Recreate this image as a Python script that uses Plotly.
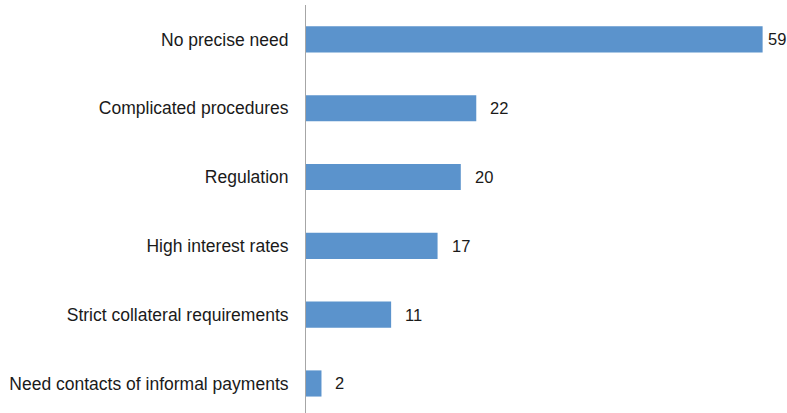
import plotly.graph_objects as go

# Obstacles cited, share of respondents
categories = [
    "No precise need",
    "Complicated procedures",
    "Regulation",
    "High interest rates",
    "Strict collateral requirements",
    "Need contacts of informal payments",
]
values = [59, 22, 20, 17, 11, 2]
label_shift = [3, 12, 12, 12, 12, 12]

BAR_COLOR = "#5b93cc"
TEXT_COLOR = "#1a1a1a"
FONT = "Liberation Sans, Arial, sans-serif"
TICK_SIZE = 17.5
VALUE_SIZE = 16.5

fig = go.Figure(
    go.Bar(
        x=values,
        y=categories,
        orientation="h",
        marker=dict(color=BAR_COLOR, line=dict(width=0)),
        hoverinfo="skip",
    )
)

for cat, val, dx in zip(categories, values, label_shift):
    fig.add_annotation(
        x=val, y=cat, text=str(val), showarrow=False,
        xanchor="left", yanchor="middle", xshift=dx,
        font=dict(size=VALUE_SIZE, color=TEXT_COLOR, family=FONT),
    )

fig.update_layout(
    width=787,
    height=413,
    margin=dict(l=306, r=0, t=5, b=0),
    paper_bgcolor="white",
    plot_bgcolor="white",
    bargap=0.62,
    showlegend=False,
    font=dict(family=FONT, size=TICK_SIZE, color=TEXT_COLOR),
)
fig.update_xaxes(
    range=[0, 62.15],
    visible=False,
    showgrid=False,
    zeroline=False,
)
fig.update_yaxes(
    type="category",
    categoryorder="array",
    categoryarray=categories,
    range=[5.429, -0.5],
    showline=True,
    linecolor="#a6a6a6",
    linewidth=1,
    ticks="",
    ticklabelstandoff=13,
    showgrid=False,
    zeroline=False,
    tickfont=dict(size=TICK_SIZE, color=TEXT_COLOR, family=FONT),
)

fig.write_html("out.html")
